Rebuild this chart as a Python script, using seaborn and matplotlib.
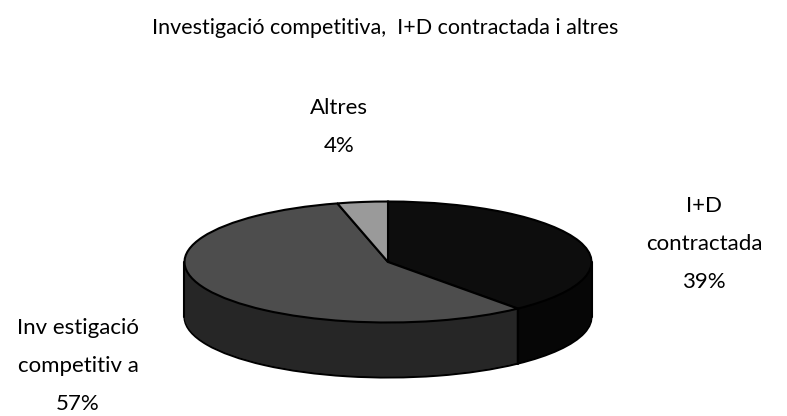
import numpy as np
import seaborn as sns
import matplotlib.pyplot as plt

labels = ['I+D\ncontractada\n39%', 'Inv estigació\ncompetitiv a\n57%', 'Altres\n4%']
values = [39, 57, 4]
top_colors = ['#0d0d0d', '#4d4d4d', '#9a9a9a']
side_colors = ['#060606', '#262626', '#555555']
title = 'Investigació competitiva,  I+D contractada i altres'

sns.set_theme(style='white')
plt.rcParams['font.family'] = ['Lato', 'DejaVu Sans']

fig = plt.figure(figsize=(7.87, 4.16), dpi=100)
ax = fig.add_axes([0, 0, 1, 1])

# pie centre and radii in pixels, y flipped so it reads like the image
cx, cy = 388, 262
rx, ry = 203.5, 60.5
depth = 55
lw = 1.5

# the side of the cake: a stack of pies, the bottom one is outlined
for d in np.arange(depth, 0, -1):
    edge = 'black' if d == depth else 'none'
    ax.pie(values, colors=side_colors, startangle=90, counterclock=False,
           center=(0, -d / ry), radius=1, frame=False,
           wedgeprops=dict(edgecolor=edge, linewidth=lw))

# top face
wedges, _ = ax.pie(values, colors=top_colors, startangle=90, counterclock=False,
                   center=(0, 0), radius=1, frame=False,
                   wedgeprops=dict(edgecolor='black', linewidth=lw))

# side edges at the left and right of the ellipse and at slice boundaries
ang = np.deg2rad(90 - 360 * values[0] / 100)
ax.plot([np.cos(ang)] * 2, [np.sin(ang), np.sin(ang) - depth / ry], color='black', lw=lw)
ax.plot([-1, -1], [0, -depth / ry], color='black', lw=lw)
ax.plot([1, 1], [0, -depth / ry], color='black', lw=lw)

# switch from the round pie to the flattened ellipse
ax.set_aspect('auto')
ax.set_xlim(-cx / rx, (787 - cx) / rx)
ax.set_ylim(-(416 - cy) / ry, cy / ry)
ax.axis('off')

def to_fig(px, py):
    return px / 787, 1 - py / 416

fs = 16
fig.text(*to_fig(385, 28), title, ha='center', va='center', fontsize=15.5,
         color='black', weight='regular')
fig.text(*to_fig(704, 244), labels[0], ha='center', va='center', fontsize=fs,
         color='black', linespacing=2.1, weight='regular')
fig.text(*to_fig(78, 366), labels[1], ha='center', va='center', fontsize=fs,
         color='black', linespacing=2.1, weight='regular')
fig.text(*to_fig(339, 127), labels[2], ha='center', va='center', fontsize=fs,
         color='black', linespacing=2.1, weight='regular')

fig.savefig('out.png', dpi=100, facecolor='white')
